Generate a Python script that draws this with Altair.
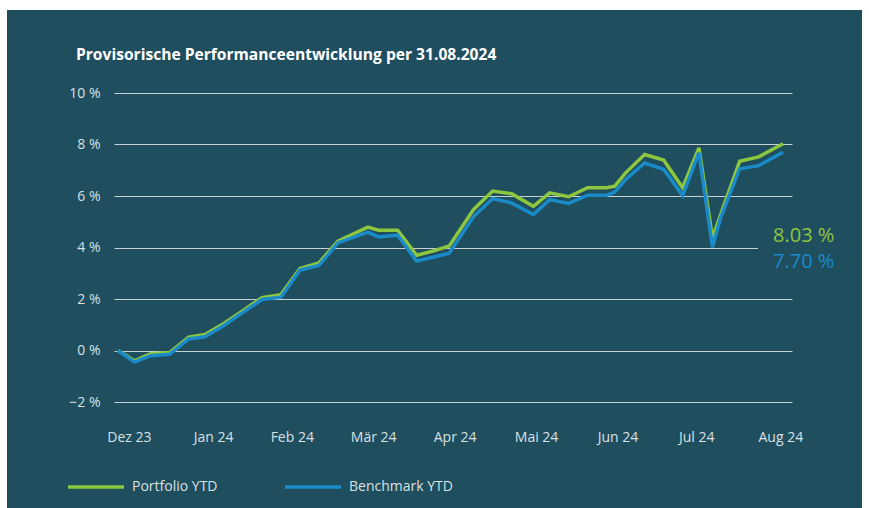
import altair as alt
import pandas as pd

# ---- data ----
dates = ["2023-12-29", "2024-01-04", "2024-01-10", "2024-01-17", "2024-01-24", "2024-01-30",
         "2024-02-06", "2024-02-13", "2024-02-20", "2024-02-27", "2024-03-05", "2024-03-12",
         "2024-03-19", "2024-03-30", "2024-04-03", "2024-04-10", "2024-04-17", "2024-04-23",
         "2024-04-29", "2024-05-08", "2024-05-15", "2024-05-22", "2024-05-30", "2024-06-05",
         "2024-06-12", "2024-06-19", "2024-06-26", "2024-06-29", "2024-07-03", "2024-07-10",
         "2024-07-17", "2024-07-24", "2024-07-30", "2024-08-04", "2024-08-07", "2024-08-14",
         "2024-08-21", "2024-08-30"]
portfolio = [0.00, -0.40, -0.13, -0.08, 0.52, 0.62, 1.05, 1.55, 2.05, 2.17, 3.18, 3.40,
             4.25, 4.79, 4.67, 4.67, 3.70, 3.86, 4.06, 5.48, 6.19, 6.09, 5.60, 6.12,
             5.97, 6.32, 6.32, 6.38, 6.90, 7.61, 7.40, 6.32, 7.87, 4.38, 5.28, 7.35,
             7.52, 8.03]
benchmark = [0.00, -0.45, -0.20, -0.15, 0.45, 0.53, 0.97, 1.48, 1.98, 2.07, 3.12, 3.30,
             4.18, 4.60, 4.41, 4.48, 3.47, 3.62, 3.78, 5.20, 5.90, 5.73, 5.28, 5.86,
             5.71, 6.03, 6.03, 6.15, 6.64, 7.28, 7.04, 6.02, 7.68, 4.01, 5.15, 7.06,
             7.18, 7.70]
series_names = ["Portfolio YTD", "Benchmark YTD"]
series_colors = ["#8dc63f", "#1b8ac8"]
y_ticks = [-2, 0, 2, 4, 6, 8, 10]
x_tick_dates = [(2024, 1, 2), (2024, 2, 2), (2024, 3, 2), (2024, 4, 1), (2024, 5, 1),
                (2024, 5, 31), (2024, 6, 30), (2024, 7, 29), (2024, 8, 29)]
title_text = "Provisorische Performanceentwicklung per 31.08.2024"

BG = "#1f4e5f"
LABEL = "#d9e0e3"
FONT = "Open Sans"

df = pd.concat([
    pd.DataFrame({"date": dates, "value": portfolio, "series": series_names[0]}),
    pd.DataFrame({"date": dates, "value": benchmark, "series": series_names[1]}),
], ignore_index=True)

x_scale = alt.Scale(type="utc", domain=[
    alt.DateTime(year=2023, month=12, date=27, hours=12, utc=True),
    alt.DateTime(year=2024, month=9, date=2, hours=7, utc=True)])

month_expr = ("['Jan','Feb','Mär','Apr','Mai','Jun','Jul','Aug','Sep','Okt','Nov','Dez']"
              "[utcmonth(datum.value - 1296000000)] + ' ' + utcFormat(datum.value - 1296000000, '%y')")

x_enc = alt.X("date:T", scale=x_scale, axis=alt.Axis(
    title=None, grid=False, domain=False, ticks=False, labelPadding=28,
    values=[alt.DateTime(year=y, month=m, date=d, utc=True) for (y, m, d) in x_tick_dates],
    labelExpr=month_expr, labelFontSize=14, labelColor=LABEL, labelFont=FONT))

y_enc = alt.Y("value:Q", scale=alt.Scale(domain=[-2, 10], nice=False), axis=alt.Axis(
    title=None, domain=False, ticks=False, values=y_ticks, labelPadding=14,
    grid=True, gridColor="#c9d1d5", gridWidth=1.2,
    labelExpr="(datum.value < 0 ? '\u2212' : '') + abs(datum.value) + ' %'",
    labelFontSize=14, labelColor=LABEL, labelFont=FONT))

lines = alt.Chart(df).mark_line(strokeWidth=3.5, strokeJoin="miter", strokeMiterLimit=3).encode(
    x=x_enc, y=y_enc,
    color=alt.Color("series:N", scale=alt.Scale(domain=series_names, range=series_colors),
                    legend=alt.Legend(title=None, orient="none", legendX=-48, legendY=364,
                                      direction="horizontal", symbolType="stroke",
                                      symbolSize=3136, symbolStrokeWidth=3.5,
                                      labelFontSize=14, labelColor=LABEL, labelFont=FONT,
                                      labelOffset=6, columnPadding=60)),
    detail="series:N")

dummy = pd.DataFrame({"k": [0]})

label_bg = alt.Chart(dummy).mark_rect(fill=BG).encode(
    x=alt.value(644), x2=alt.value(690), y=alt.value(128), y2=alt.value(182))

end_green = alt.Chart(pd.DataFrame({"date": [dates[-1]], "t": [f"{portfolio[-1]:.2f} %"]})).mark_text(
    align="left", baseline="alphabetic", fontSize=20, font=FONT, color=series_colors[0], dx=-10
).encode(x=alt.X("date:T", scale=x_scale), y=alt.value(149), text="t:N")

end_blue = alt.Chart(pd.DataFrame({"date": [dates[-1]], "t": [f"{benchmark[-1]:.2f} %"]})).mark_text(
    align="left", baseline="alphabetic", fontSize=20, font=FONT, color=series_colors[1], dx=-10
).encode(x=alt.X("date:T", scale=x_scale), y=alt.value(175), text="t:N")

title = alt.Chart(dummy).mark_text(
    text=title_text, align="left", baseline="alphabetic", fontSize=15.6, fontWeight="bold",
    font=FONT, color="#ffffff").encode(x=alt.value(-38), y=alt.value(-33))

border = alt.Chart(dummy).mark_rect(fillOpacity=0, stroke="#ffffff", strokeWidth=20).encode(
    x=alt.value(-117), x2=alt.value(758), y=alt.value(-93), y2=alt.value(425))

chart = alt.layer(label_bg, lines, end_green, end_blue, title, border).properties(
    width=678, height=309,
    autosize=alt.AutoSizeParams(type="none"),
    padding={"left": 114, "top": 93, "right": 77, "bottom": 106},
    background=BG,
).configure_view(stroke=None)

chart.save("out.html", embed_options={"renderer": "svg", "actions": False})
